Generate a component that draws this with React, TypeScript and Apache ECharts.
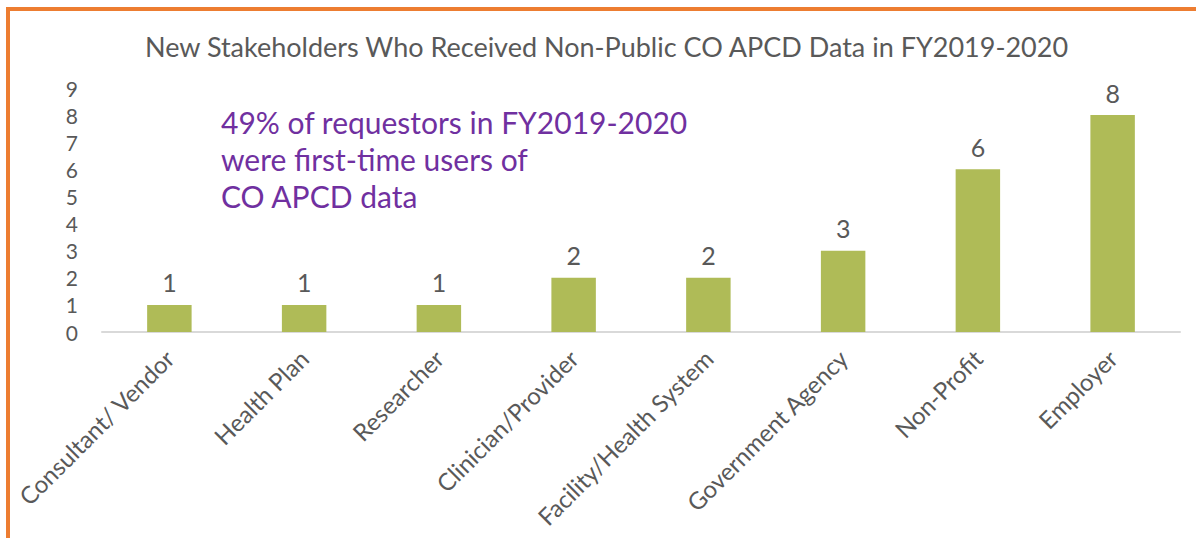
import React, { useEffect, useRef } from "react";
import * as echarts from "echarts";

const categories = [
  "Consultant/ Vendor",
  "Health Plan",
  "Researcher",
  "Clinician/Provider",
  "Facility/Health System",
  "Government Agency",
  "Non-Profit",
  "Employer",
];
const values = [1, 1, 1, 2, 2, 3, 6, 8];
const titleText = "New Stakeholders Who Received Non-Public CO APCD Data in FY2019-2020";
const noteLines = [
  "49% of requestors in FY2019-2020",
  "were first-time users of",
  "CO APCD data",
];

const FONT = "Lato, 'Open Sans', sans-serif";
const GRAY = "#595959";

export default function App() {
  const ref = useRef<HTMLDivElement>(null);
  useEffect(() => {
    document.body.style.margin = "0";
    const chart = echarts.init(ref.current!, null, { renderer: "svg" });
    chart.setOption({
      animation: false,
      backgroundColor: "#ffffff",
      title: {
        text: titleText,
        left: 140,
        top: 28,
        textStyle: { fontFamily: FONT, fontSize: 27, fontWeight: "normal", color: GRAY },
      },
      grid: { left: 102, right: 16, top: 88, bottom: 206, containLabel: false },
      xAxis: {
        type: "category",
        data: categories,
        axisLine: { show: true, lineStyle: { color: "#D9D9D9", width: 2 } },
        axisTick: { show: false },
        axisLabel: {
          rotate: 45,
          margin: 22,
          interval: 0,
          fontFamily: FONT,
          fontSize: 24,
          color: GRAY,
        },
      },
      yAxis: {
        type: "value",
        min: 0,
        max: 9,
        interval: 1,
        splitLine: { show: false },
        axisLine: { show: false },
        axisTick: { show: false },
        axisLabel: { margin: 24, fontFamily: FONT, fontSize: 21, color: GRAY },
      },
      series: [
        {
          type: "bar",
          data: values,
          barWidth: "33%",
          itemStyle: { color: "#AFBB57" },
          label: {
            show: true,
            position: "top",
            distance: 10,
            fontFamily: FONT,
            fontSize: 25,
            color: GRAY,
          },
        },
      ],
      graphic: [
        {
          type: "rect",
          shape: { x: 6, y: 7, width: 1190, height: 4 },
          style: { fill: "#ED7D31" },
          silent: true,
        },
        {
          type: "rect",
          shape: { x: 6, y: 7, width: 4, height: 531 },
          style: { fill: "#ED7D31" },
          silent: true,
        },
        ...noteLines.map((t, i) => ({
          type: "text",
          left: 221,
          top: 107 + i * 37,
          style: {
            text: t,
            fontFamily: FONT,
            fontSize: 30,
            fill: "#7030A0",
          },
        })),
      ],
    });
    return () => chart.dispose();
  }, []);
  return <div ref={ref} style={{ width: 1196, height: 538 }} />;
}
